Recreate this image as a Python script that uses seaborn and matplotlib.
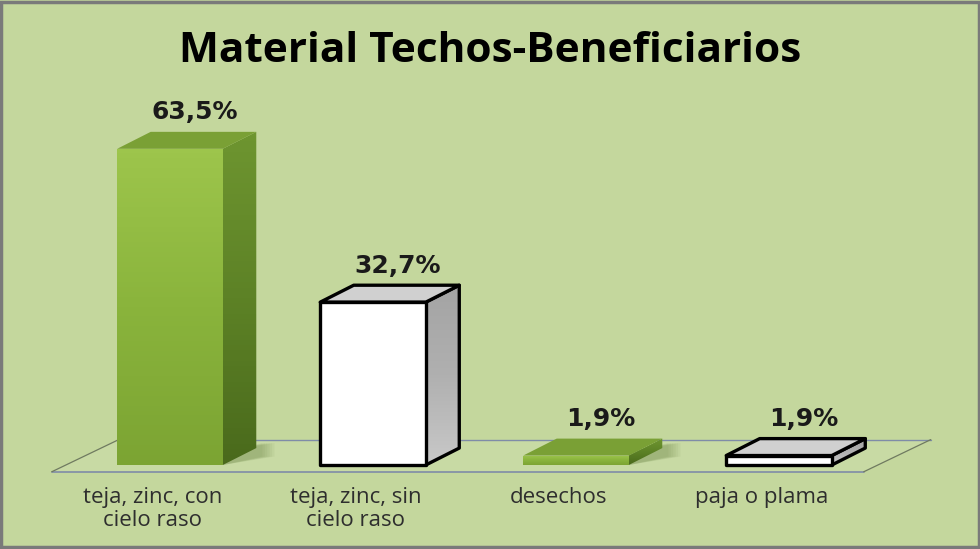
import matplotlib.pyplot as plt
import matplotlib.patches as mpatches
from matplotlib.colors import LinearSegmentedColormap
import numpy as np
import pandas as pd
import seaborn as sns

# Datos del grafico
categorias = ['teja, zinc, con\ncielo raso', 'teja, zinc, sin\ncielo raso',
              'desechos', 'paja o plama']
porcentajes = [63.5, 32.7, 1.9, 1.9]
etiquetas = ['63,5%', '32,7%', '1,9%', '1,9%']
estilos = ['verde', 'blanco', 'verde', 'blanco']
titulo = 'Material Techos-Beneficiarios'

df = pd.DataFrame({'categoria': categorias, 'porcentaje': porcentajes,
                   'estilo': estilos})

FONDO = '#c4d79d'
sns.set_theme(style='white', rc={'figure.facecolor': FONDO, 'axes.facecolor': FONDO})

fig = plt.figure(figsize=(9.8, 5.49), dpi=100)
ax = fig.add_axes([0, 0, 1, 1])

colores = {c: ('#8db63c' if e == 'verde' else 'white') for c, e in zip(categorias, estilos)}
sns.barplot(data=df, x='categoria', y='porcentaje', hue='categoria',
            palette=colores, legend=False, width=0.52, ax=ax, zorder=5)

# profundidad 3D (unidades de datos)
dx, dy = 0.165, 3.4
n = len(categorias)

# piso
piso = [(-0.5 - dx / 2, -0.4 * dy), (n - 0.5 - dx / 2, -0.4 * dy),
        (n - 0.5 + 1.5 * dx, 1.5 * dy), (-0.5 + 1.5 * dx, 1.5 * dy)]
ax.add_patch(mpatches.Polygon(piso, closed=True, facecolor='#c8daa4',
                              edgecolor='none', zorder=1))
ax.plot([piso[0][0], piso[1][0]], [piso[0][1], piso[1][1]], color='#7f8ca8', lw=1.2, zorder=2)
ax.plot([piso[3][0], piso[2][0]], [piso[3][1], piso[2][1]], color='#7f8ca8', lw=1.0, zorder=2)
ax.plot([piso[0][0], piso[3][0]], [piso[0][1], piso[3][1]], color='#6f7a60', lw=0.9, zorder=2)
ax.plot([piso[1][0], piso[2][0]], [piso[1][1], piso[2][1]], color='#6f7a60', lw=0.9, zorder=2)

cm_frente = LinearSegmentedColormap.from_list('f', ['#7ca433', '#8ab43c', '#9dc54c'])
cm_lado = LinearSegmentedColormap.from_list('l', ['#4a6a1c', '#5d8226', '#6e9530'])
cm_gris = LinearSegmentedColormap.from_list('g', ['#c8c8c8', '#b0b0b0', '#a4a4a4'])

for i, (p, est) in enumerate(zip(ax.patches, estilos)):
    x0, w, h = p.get_x(), p.get_width(), p.get_height()
    lado = [(x0 + w, 0), (x0 + w + dx, dy), (x0 + w + dx, h + dy), (x0 + w, h)]
    tapa = [(x0, h), (x0 + w, h), (x0 + w + dx, h + dy), (x0 + dx, h + dy)]
    g = np.linspace(0, 1, 64).reshape(-1, 1)
    if est == 'verde':
        # sombra suave sobre el piso
        for k in range(6):
            s = 0.012 * k
            ax.add_patch(mpatches.Polygon(
                [(x0 + w, 0), (x0 + w + dx + 0.03 + s, dy * 0.5),
                 (x0 + w + dx + 0.03 + s, dy * 1.3), (x0 + w, dy * 0.8)],
                closed=True, facecolor='#3d5a14', edgecolor='none', alpha=0.05, zorder=3))
        pl = mpatches.Polygon(lado, closed=True, facecolor='none', edgecolor='none', zorder=4)
        ax.add_patch(pl)
        im = ax.imshow(g, extent=[x0 + w, x0 + w + dx, 0, h + dy], origin='lower',
                       aspect='auto', cmap=cm_lado, zorder=4)
        im.set_clip_path(pl)
        ax.add_patch(mpatches.Polygon(tapa, closed=True, facecolor='#7aa035',
                                      edgecolor='none', zorder=4))
        p.set_facecolor('none')
        p.set_edgecolor('none')
        im2 = ax.imshow(g, extent=[x0, x0 + w, 0, h], origin='lower',
                        aspect='auto', cmap=cm_frente, zorder=5)
        im2.set_clip_path(p)
    else:
        pl = mpatches.Polygon(lado, closed=True, facecolor='none', edgecolor='none', zorder=4)
        ax.add_patch(pl)
        im = ax.imshow(g, extent=[x0 + w, x0 + w + dx, 0, h + dy], origin='lower',
                       aspect='auto', cmap=cm_gris, zorder=4)
        im.set_clip_path(pl)
        ax.add_patch(mpatches.Polygon(lado, closed=True, facecolor='none',
                                      edgecolor='black', lw=2.4, joinstyle='round', zorder=4.5))
        ax.add_patch(mpatches.Polygon(tapa, closed=True, facecolor='#d0d0d0',
                                      edgecolor='black', lw=2.4, joinstyle='round', zorder=4.5))
        p.set_edgecolor('black')
        p.set_linewidth(2.4)
        p.set_joinstyle('round')
        p.set_zorder(6)
    ax.text(x0 + w / 2 + 0.12, h + dy + 3.9, etiquetas[i], ha='center', va='center',
            fontsize=18, fontweight='bold', family='DejaVu Sans', color='#1a1a1a', zorder=8)
    ax.text(i - 0.085, -4.5, categorias[i], ha='center', va='top', fontsize=16,
            family='Open Sans', color='#2e2e2e', linespacing=1.13, zorder=8)

ax.set_xlim(-170 / 203, 810 / 203)
ax.set_ylim(-84 / 4.98, 465 / 4.98)
ax.axis('off')

fig.text(0.5, 1 - 62 / 549, titulo, ha='center', va='baseline', fontsize=30.5,
         fontweight='bold', family='Open Sans', color='black')

# marco gris
fig.patches.append(mpatches.Rectangle((0.0015, 0.003), 0.997, 0.993, transform=fig.transFigure,
                                      fill=False, edgecolor='#7a7a7a', lw=2.5))

fig.savefig('out.png', dpi=100, facecolor=FONDO)
